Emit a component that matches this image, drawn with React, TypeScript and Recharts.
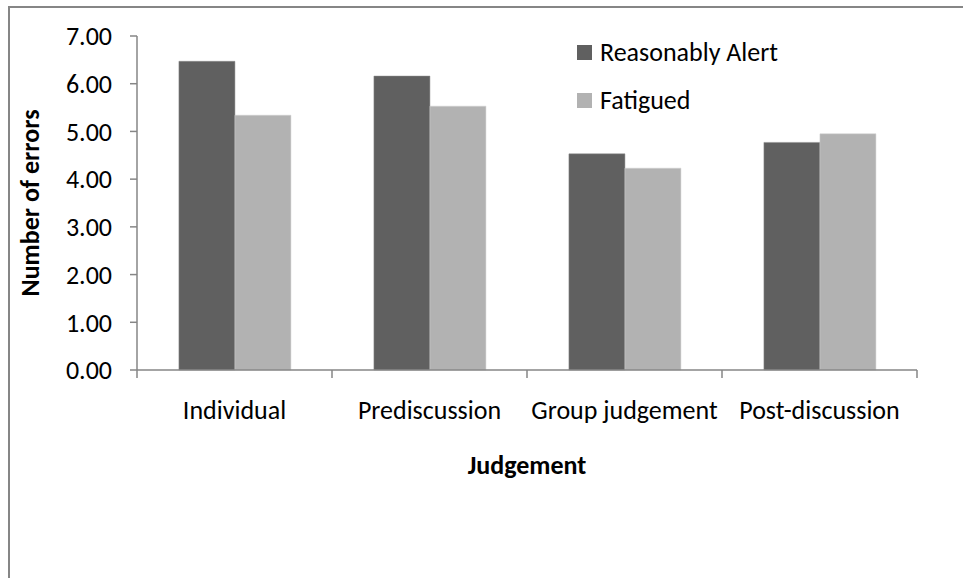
import React from 'react';
import { BarChart, Bar, XAxis, YAxis, Legend } from 'recharts';

// Mean number of errors per judgement stage, by alertness condition
const categories = ['Individual', 'Prediscussion', 'Group judgement', 'Post-discussion'];
const alertValues = [6.47, 6.16, 4.53, 4.77];
const fatiguedValues = [5.34, 5.53, 4.23, 4.95];
const yTicks = [0, 1, 2, 3, 4, 5, 6, 7];
const seriesNames = ['Reasonably Alert', 'Fatigued'];
const seriesColors = ['#606060', '#b2b2b2'];

const data = categories.map((judgement, i) => ({
  judgement,
  alert: alertValues[i],
  fatigued: fatiguedValues[i],
}));

const WIDTH = 963;
const HEIGHT = 578;
const PLOT_LEFT = 137;
const PLOT_RIGHT = 917;
const PLOT_TOP = 36;
const PLOT_BOTTOM = 370;
const Y_AXIS_W = 80;
const X_AXIS_H = 120;
const FONT = "Carlito, Calibri, 'Open Sans', sans-serif";
const FONT_SIZE = 26;
const AXIS_COLOR = '#868686';
const BAND = (PLOT_RIGHT - PLOT_LEFT) / categories.length;

const CategoryTick = (props: any) => {
  const { x, y, payload, index } = props;
  const half = BAND / 2;
  const last = index === categories.length - 1;
  return (
    <g>
      <line x1={x - half} x2={x - half} y1={y} y2={y + 8} stroke={AXIS_COLOR} strokeWidth={1.5} />
      {last && <line x1={x + half} x2={x + half} y1={y} y2={y + 8} stroke={AXIS_COLOR} strokeWidth={1.5} />}
      <text x={x} y={y + 49} textAnchor="middle" fontFamily={FONT} fontSize={FONT_SIZE} fill="#000">
        {payload.value}
      </text>
    </g>
  );
};

const LegendBox = () => (
  <div style={{ fontFamily: FONT, fontSize: FONT_SIZE, color: '#000' }}>
    {seriesNames.map((name, i) => (
      <div key={name} style={{ display: 'flex', alignItems: 'center', height: 48 }}>
        <span style={{ width: 15, height: 15, background: seriesColors[i], marginRight: 8, display: 'inline-block' }} />
        <span>{name}</span>
      </div>
    ))}
  </div>
);

export default function App() {
  return (
    <div style={{ position: 'absolute', left: 0, top: 0, width: WIDTH, height: HEIGHT, background: '#fff' }}>
      <div
        style={{
          position: 'absolute',
          left: 8,
          top: 6,
          width: WIDTH - 8,
          height: HEIGHT - 6,
          borderTop: `2px solid ${AXIS_COLOR}`,
          borderLeft: `2px solid ${AXIS_COLOR}`,
          boxSizing: 'border-box',
        }}
      />
      <BarChart
        width={WIDTH}
        height={HEIGHT}
        data={data}
        margin={{
          top: PLOT_TOP,
          right: WIDTH - PLOT_RIGHT,
          left: PLOT_LEFT - Y_AXIS_W,
          bottom: HEIGHT - PLOT_BOTTOM - X_AXIS_H,
        }}
        barGap={0}
        barCategoryGap="21.5%"
        style={{ position: 'absolute', left: 0, top: 0 }}
      >
        <XAxis
          dataKey="judgement"
          height={X_AXIS_H}
          tickLine={false}
          tickSize={0}
          tickMargin={0}
          axisLine={{ stroke: AXIS_COLOR, strokeWidth: 1.5 }}
          tick={<CategoryTick />}
          interval={0}
          label={() => (
            <text
              x={PLOT_LEFT + (PLOT_RIGHT - PLOT_LEFT) / 2}
              y={474}
              textAnchor="middle"
              fontFamily={FONT}
              fontWeight="bold"
              fontSize={FONT_SIZE}
              fill="#000"
            >
              Judgement
            </text>
          )}
        />
        <YAxis
          width={Y_AXIS_W}
          domain={[0, 7]}
          ticks={yTicks}
          interval={0}
          tickFormatter={(v: number) => v.toFixed(2)}
          tickSize={7}
          tickMargin={18}
          tickLine={{ stroke: AXIS_COLOR, strokeWidth: 1.5 }}
          axisLine={{ stroke: AXIS_COLOR, strokeWidth: 1.5 }}
          tick={{ fill: '#000', fontSize: FONT_SIZE, fontFamily: FONT }}
          label={() => (
            <text
              x={30}
              y={203}
              transform="rotate(-90 30 203)"
              textAnchor="middle"
              dominantBaseline="central"
              fontFamily={FONT}
              fontWeight="bold"
              fontSize={FONT_SIZE}
              fill="#000"
            >
              Number of errors
            </text>
          )}
        />
        <Legend
          layout="vertical"
          align="center"
          verticalAlign="middle"
          content={<LegendBox />}
          wrapperStyle={{ left: 577, top: 28, width: 300 }}
        />
        <Bar dataKey="alert" name={seriesNames[0]} fill={seriesColors[0]} stroke="#8a8a8a" strokeWidth={0.5} isAnimationActive={false} />
        <Bar dataKey="fatigued" name={seriesNames[1]} fill={seriesColors[1]} stroke="#d0d0d0" strokeWidth={0.5} isAnimationActive={false} />
      </BarChart>
    </div>
  );
}
